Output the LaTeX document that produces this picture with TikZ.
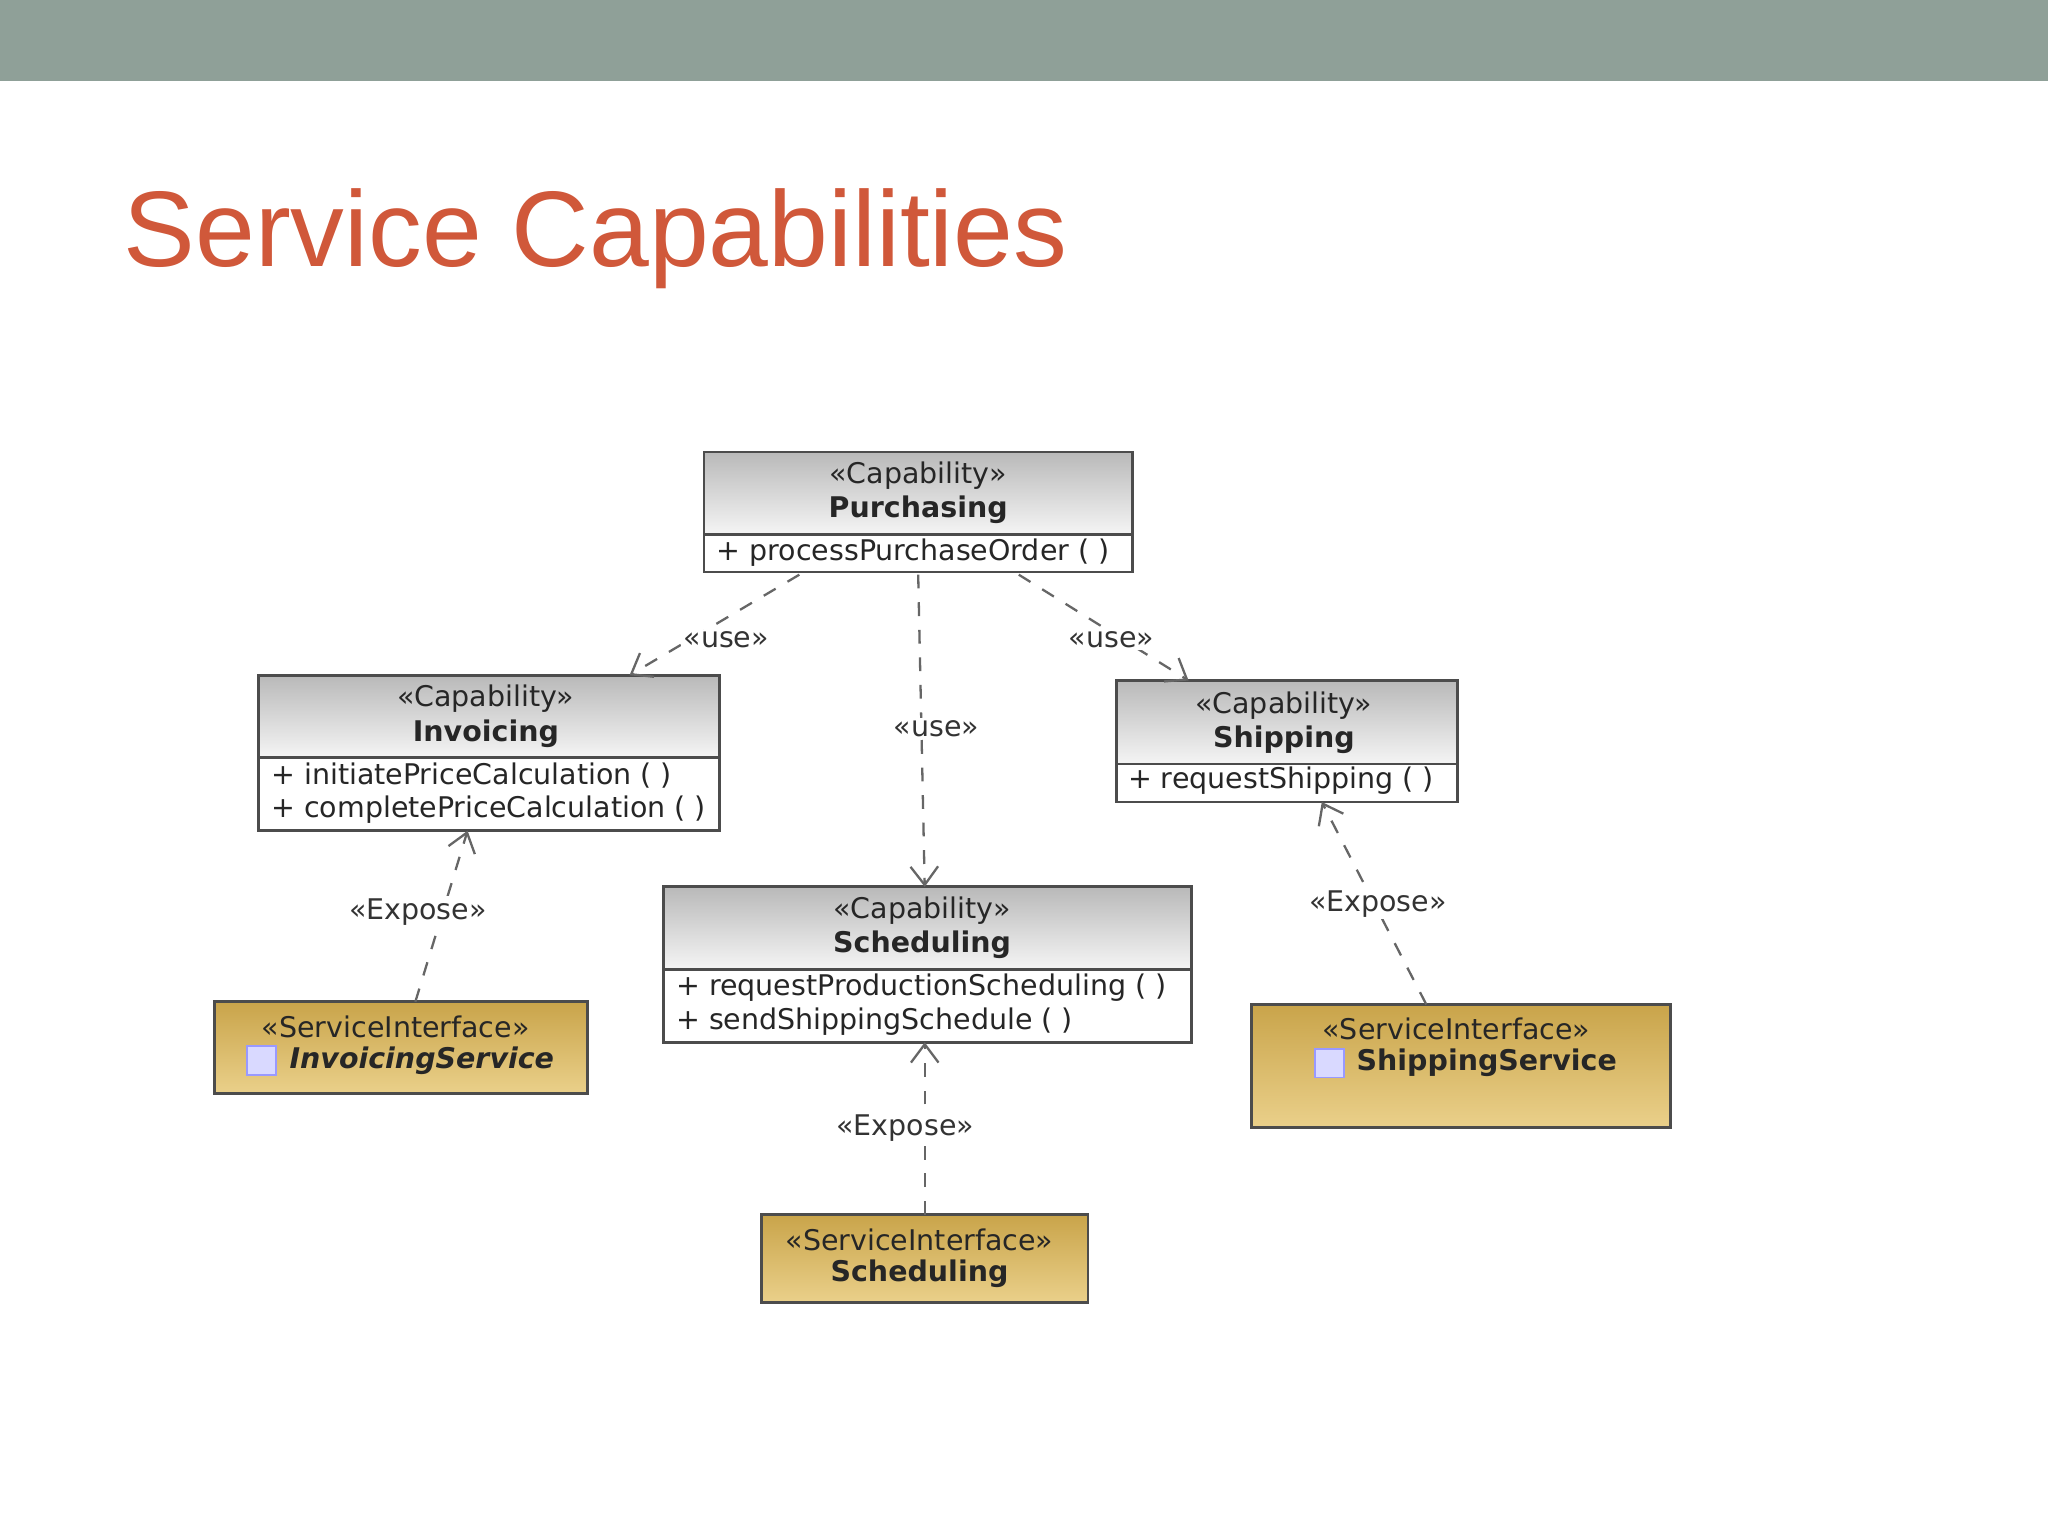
\documentclass[tikz,border=0pt]{standalone}
\usepackage{fontspec}
\setmainfont{DejaVu Sans}
\newfontfamily\titlefont{Liberation Sans}
\usetikzlibrary{arrows.meta}
\definecolor{bar}{HTML}{8FA098}
\definecolor{ttl}{HTML}{D0583A}
\definecolor{goldA}{HTML}{C9A44A}
\definecolor{goldB}{HTML}{EAD08A}
\tikzset{
 x=0.01cm,y=-0.01cm,
 hdr/.style={draw=black!70,line width=0.6pt,top color=gray!55,bottom color=gray!8},
 attr/.style={draw=black!70,line width=0.6pt,fill=white},
 si/.style={draw=black!70,line width=0.6pt,top color=goldA,bottom color=goldB},
 txt/.style={font=\fontsize{6.2}{7.4}\selectfont,inner sep=0pt,text=black!85},
 dep/.style={dashed,draw=black!60,line width=0.5pt,-{Straight Barb[length=4pt,width=6pt]}},
 lbl/.style={font=\fontsize{6.2}{7}\selectfont,fill=white,inner sep=0.5pt,text=black!80}
}
\begin{document}
\begin{tikzpicture}
\useasboundingbox (0,0) rectangle (1568,1176);
\fill[bar] (0,0) rectangle (1568,62);
\node[anchor=west,text=ttl,font=\titlefont\fontsize{23.4}{28}\selectfont,inner sep=0pt] (title) at (94,183) {Service Capabilities};
% Purchasing
\filldraw[hdr] (539,346) rectangle (867,409);
\filldraw[attr] (539,409) rectangle (867,438);
\node[txt] (p1) at (703,364) {«Capability»};
\node[txt,font=\fontsize{6.2}{7.4}\selectfont\bfseries] (p2) at (703,390) {Purchasing};
\node[txt,anchor=west] (p3) at (548,423) {+ processPurchaseOrder ( )};
% Invoicing
\filldraw[hdr] (198,517) rectangle (551,580);
\filldraw[attr] (198,580) rectangle (551,636);
\node[txt] (i1) at (372,535) {«Capability»};
\node[txt,font=\fontsize{6.2}{7.4}\selectfont\bfseries] (i2) at (372,562) {Invoicing};
\node[txt,anchor=west] (i3) at (207,594) {+ initiatePriceCalculation ( )};
\node[txt,anchor=west] (i4) at (207,620) {+ completePriceCalculation ( )};
% Shipping
\filldraw[hdr] (855,521) rectangle (1116,585);
\filldraw[attr] (855,585) rectangle (1116,614);
\node[txt] (s1) at (983,540) {«Capability»};
\node[txt,font=\fontsize{6.2}{7.4}\selectfont\bfseries] (s2) at (983,566) {Shipping};
\node[txt,anchor=west] (s3) at (863,598) {+ requestShipping ( )};
% Scheduling capability
\filldraw[hdr] (508,679) rectangle (912,742);
\filldraw[attr] (508,742) rectangle (912,798);
\node[txt] (c1) at (706,697) {«Capability»};
\node[txt,font=\fontsize{6.2}{7.4}\selectfont\bfseries] (c2) at (706,723) {Scheduling};
\node[txt,anchor=west] (c3) at (517,756) {+ requestProductionScheduling ( )};
\node[txt,anchor=west] (c4) at (517,782) {+ sendShippingSchedule ( )};
% Service interfaces
\filldraw[si] (164,767) rectangle (450,837);
\node[txt] (is1) at (303,786) {«ServiceInterface»};
\fill[blue!15,draw=blue!40] (189,801) rectangle (211,823);
\node[txt,anchor=west,font=\fontsize{6.2}{7.4}\selectfont\bfseries\itshape] (is2) at (221,812) {InvoicingService};
\filldraw[si] (958,769) rectangle (1279,863);
\node[txt] (ss1) at (1115,788) {«ServiceInterface»};
\fill[blue!15,draw=blue!40] (1007,803) rectangle (1029,825);
\node[txt,anchor=west,font=\fontsize{6.2}{7.4}\selectfont\bfseries] (ss2) at (1038,814) {ShippingService};
\filldraw[si] (583,930) rectangle (833,997);
\node[txt] (cs1) at (704,949) {«ServiceInterface»};
\node[txt,font=\fontsize{6.2}{7.4}\selectfont\bfseries] (cs2) at (704,975) {Scheduling};
% connector endpoints
\coordinate (a1) at (612,440); \coordinate (b1) at (482,517);
\coordinate (a2) at (703,440); \coordinate (b2) at (708,679);
\coordinate (a3) at (780,440); \coordinate (b3) at (910,521);
\coordinate (a4) at (318,767); \coordinate (b4) at (358,636);
\coordinate (a5) at (708,930); \coordinate (b5) at (708,798);
\coordinate (a6) at (1092,769); \coordinate (b6) at (1012,614);
\draw[dep] (a1) -- (b1);
\draw[dep] (a2) -- (b2);
\draw[dep] (a3) -- (b3);
\draw[dep] (a4) -- (b4);
\draw[dep] (a5) -- (b5);
\draw[dep] (a6) -- (b6);
\node[lbl] (l1) at (556,490) {«use»};
\node[lbl] (l2) at (717,558) {«use»};
\node[lbl] (l3) at (851,490) {«use»};
\node[lbl] (l4) at (320,698) {«Expose»};
\node[lbl] (l5) at (693,864) {«Expose»};
\node[lbl] (l6) at (1055,692) {«Expose»};
\end{tikzpicture}
\end{document}
